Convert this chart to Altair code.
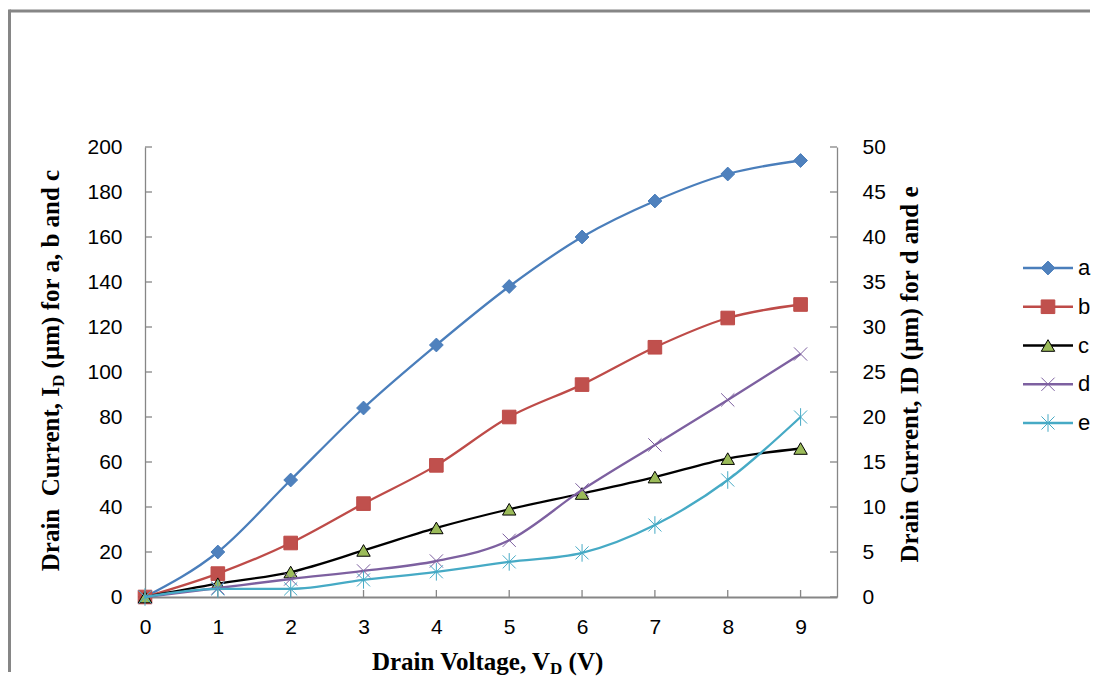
import altair as alt
import pandas as pd

# ---- data ----
vd = [0, 1, 2, 3, 4, 5, 6, 7, 8, 9]
a = [0, 20, 52, 84, 112, 138, 160, 176, 188, 194]
b = [0, 10.4, 24, 41.5, 58.5, 80, 94.4, 111, 124, 130]
c = [0, 5.9, 11.1, 20.7, 30.7, 39, 46, 53.3, 61.5, 66]
d = [0, 1.0, 2.0, 2.9, 4.0, 6.3, 11.9, 16.9, 21.9, 27]
e = [0, 0.9, 0.9, 1.9, 2.8, 3.9, 4.9, 8.0, 13, 20]

series = ["a", "b", "c", "d", "e"]
left_ticks = list(range(0, 201, 20))
right_ticks = list(range(0, 51, 5))

line_colors = ["#4A7EBB", "#BE4B48", "#000000", "#7D60A0", "#46AAC5"]
fill_colors = ["#4F81BD", "#C0504D", "#9BBB59", "#8064A2", "#4BACC6"]
stroke_colors = ["#4A7EBB", "#BE4B48", "#000000", "#7D60A0", "#46AAC5"]
shapes = ["diamond", "square", "triangle-up",
          "M-1,-1L1,1M-1,1L1,-1",
          "M-1,-1L1,1M-1,1L1,-1M0,-1.35L0,1.35"]
sizes = [190, 170, 160, 130, 130]
stroke_widths = [1, 1, 1.5, 2.2, 2.2]

W, H = 692, 450
GRAY = "#868686"
SERIF = "Liberation Serif"
SANS = "Liberation Sans"
SPACE25 = 6.25  # width of a space in 25px serif

left_df = pd.DataFrame(
    [{"V": x, "I": v, "s": "a"} for x, v in zip(vd, a)]
    + [{"V": x, "I": v, "s": "b"} for x, v in zip(vd, b)]
    + [{"V": x, "I": v, "s": "c"} for x, v in zip(vd, c)]
)
right_df = pd.DataFrame(
    [{"V": x, "I": v, "s": "d"} for x, v in zip(vd, d)]
    + [{"V": x, "I": v, "s": "e"} for x, v in zip(vd, e)]
)
legend_df = pd.DataFrame({"s": series})
lt_df = pd.DataFrame({"t": left_ticks})
rt_df = pd.DataFrame({"t": right_ticks})
xt_df = pd.DataFrame({"t": vd})
one = pd.DataFrame({"k": [0]})

color_sc = alt.Scale(domain=series, range=line_colors)
fill_sc = alt.Scale(domain=series, range=fill_colors)
stroke_sc = alt.Scale(domain=series, range=stroke_colors)
shape_sc = alt.Scale(domain=series, range=shapes)
size_sc = alt.Scale(domain=series, range=sizes)
sw_sc = alt.Scale(domain=series, range=stroke_widths)

x_enc = alt.X(
    "V:Q",
    scale=alt.Scale(domain=[0, 9.5], nice=False, zero=False),
    axis=alt.Axis(values=vd, format="d", title=None, grid=False, ticks=False, labelPadding=19,
                  labelFont=SANS, labelFontSize=21, labelColor="#000000",
                  domainColor=GRAY, domainWidth=2, labelFlush=False),
)

def point_encodings():
    return dict(
        fill=alt.Fill("s:N", scale=fill_sc, legend=None),
        stroke=alt.Stroke("s:N", scale=stroke_sc, legend=None),
        shape=alt.Shape("s:N", scale=shape_sc, legend=None),
        size=alt.Size("s:N", scale=size_sc, legend=None),
        strokeWidth=alt.StrokeWidth("s:N", scale=sw_sc, legend=None),
    )

# ---- left axis group (a, b, c) ----
y_left = alt.Y(
    "I:Q",
    scale=alt.Scale(domain=[0, 200], nice=False),
    axis=alt.Axis(values=left_ticks, title=None, grid=False, ticks=False, labelPadding=23,
                  labelFont=SANS, labelFontSize=21, labelColor="#000000",
                  domainColor=GRAY, domainWidth=1.3),
)
left_lines = alt.Chart(left_df).mark_line(strokeWidth=2.3, interpolate="monotone").encode(
    x=x_enc, y=y_left, color=alt.Color("s:N", scale=color_sc, legend=None), detail="s:N"
)
left_points = alt.Chart(left_df).mark_point(filled=True, opacity=1).encode(
    x="V:Q", y="I:Q", **point_encodings()
)
left_tick_marks = alt.Chart(lt_df).mark_rule(color=GRAY, strokeWidth=1.3).encode(
    y=alt.Y("t:Q"), x=alt.value(0), x2=alt.value(7)
)
x_tick_marks = alt.Chart(xt_df).mark_rule(color=GRAY, strokeWidth=1.3).encode(
    x=alt.X("t:Q"), y=alt.value(H), y2=alt.value(H - 7)
)

# frame lines around the chart
frame_top = alt.Chart(one).mark_rule(color=GRAY, strokeWidth=3).encode(
    x=alt.value(-135.5), x2=alt.value(945), y=alt.value(-136)
)
frame_left = alt.Chart(one).mark_rule(color=GRAY, strokeWidth=3).encode(
    x=alt.value(-135.5), y=alt.value(-137.5), y2=alt.value(525)
)

# axis titles as text (with subscripts)
tfont = dict(font=SERIF, fontWeight="bold", color="#000000")
lt1 = alt.Chart(one).mark_text(text="Drain\u00a0\u00a0Current, I", angle=270, align="right",
                                baseline="alphabetic", fontSize=25, **tfont).encode(
    x=alt.value(-86), y=alt.value(240))
lt2 = alt.Chart(one).mark_text(text="D", angle=270, align="left", baseline="alphabetic",
                                fontSize=17, dy=5, **tfont).encode(
    x=alt.value(-86), y=alt.value(240))
lt3 = alt.Chart(one).mark_text(text="(µm) for a, b and c", angle=270, align="left",
                                baseline="alphabetic", fontSize=25, **tfont).encode(
    x=alt.value(-86), y=alt.value(240 - 12.3 - SPACE25))

xt1 = alt.Chart(one).mark_text(text="Drain Voltage, V", align="right", baseline="alphabetic",
                                fontSize=25, **tfont).encode(x=alt.value(405), y=alt.value(523))
xt2 = alt.Chart(one).mark_text(text="D", align="left", baseline="alphabetic",
                                fontSize=17, dy=4, **tfont).encode(x=alt.value(405), y=alt.value(523))
xt3 = alt.Chart(one).mark_text(text="(V)", align="left", baseline="alphabetic",
                                fontSize=25, **tfont).encode(x=alt.value(405 + 12.3 + SPACE25),
                                                            y=alt.value(523))

rtitle = alt.Chart(one).mark_text(text="Drain Current, ID (µm) for d and e", angle=270,
                                   align="center", baseline="alphabetic", fontSize=25,
                                   **tfont).encode(x=alt.value(773), y=alt.value(227.5))

left_group = alt.layer(left_lines, left_points, left_tick_marks, x_tick_marks,
                       frame_top, frame_left, lt1, lt2, lt3, xt1, xt2, xt3, rtitle)

# ---- right axis group (d, e) ----
y_right = alt.Y(
    "I:Q",
    scale=alt.Scale(domain=[0, 50], nice=False),
    axis=alt.Axis(orient="right", values=right_ticks, title=None, grid=False, ticks=False,
                  labelPadding=25, labelFont=SANS, labelFontSize=21, labelColor="#000000",
                  domainColor=GRAY, domainWidth=1.3),
)
right_lines = alt.Chart(right_df).mark_line(strokeWidth=2.3, interpolate="monotone").encode(
    x="V:Q", y=y_right, color=alt.Color("s:N", scale=color_sc, legend=None), detail="s:N"
)
right_points = alt.Chart(right_df).mark_point(filled=True, opacity=1).encode(
    x="V:Q", y="I:Q", **point_encodings()
)
right_tick_marks = alt.Chart(rt_df).mark_rule(color=GRAY, strokeWidth=1.3).encode(
    y=alt.Y("t:Q"), x=alt.value(W - 7), x2=alt.value(W)
)
right_group = alt.layer(right_lines, right_points, right_tick_marks)

# ---- custom legend ----
leg_y = alt.Y("s:N", scale=alt.Scale(type="point", domain=series, range=[121, 276], padding=0),
              axis=None)
leg_lines = alt.Chart(legend_df).mark_rule(strokeWidth=2.3).encode(
    y=leg_y, x=alt.value(878), x2=alt.value(928),
    color=alt.Color("s:N", scale=color_sc, legend=None)
)
leg_points = alt.Chart(legend_df).mark_point(filled=True, opacity=1).encode(
    y="s:N", x=alt.value(903), **point_encodings()
)
leg_text = alt.Chart(legend_df).mark_text(align="left", baseline="middle", font=SANS,
                                          fontSize=22, color="#000000").encode(
    y="s:N", x=alt.value(933), text="s:N"
)
legend_group = alt.layer(leg_lines, leg_points, leg_text)

chart = (
    alt.layer(left_group, right_group, legend_group)
    .resolve_scale(y="independent")
    .properties(width=W, height=H, padding=0, background="#ffffff")
    .configure_view(strokeWidth=0)
)

chart.save("out.html", embed_options={"renderer": "svg", "actions": False})
